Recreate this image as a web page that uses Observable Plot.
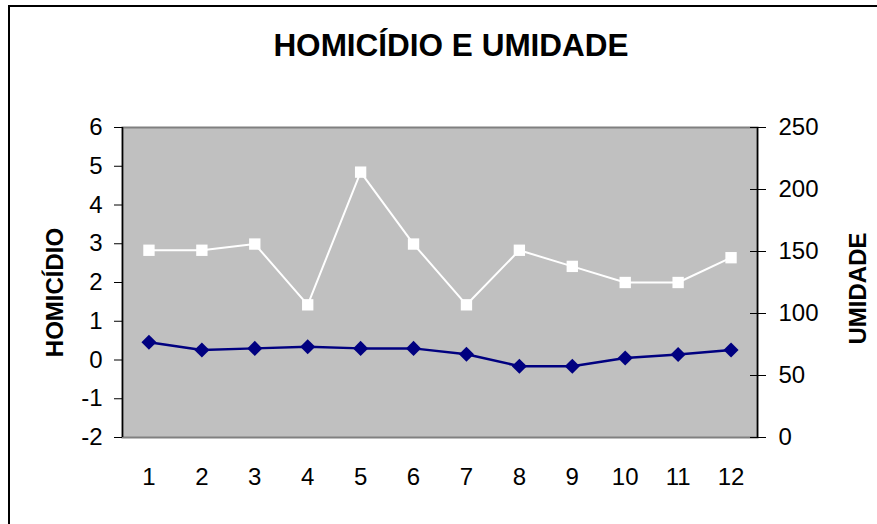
<!DOCTYPE html>
<html>
<head>
<meta charset="utf-8">
<script src="https://cdn.jsdelivr.net/npm/d3@7"></script>
<script src="https://cdn.jsdelivr.net/npm/@observablehq/plot@0.6"></script>
<style>
  html, body { margin: 0; padding: 0; background: #fff; overflow: hidden; }
  #wrap { position: relative; width: 877px; height: 524px; }
  #border { position: absolute; left: 8px; top: 5px; width: 900px; height: 600px; border-left: 2px solid #000; border-top: 2px solid #000; box-sizing: border-box; }
  #chart { position: absolute; left: 0; top: 0; }
</style>
</head>
<body>
<div id="wrap"><div id="border"></div><div id="chart"></div></div>
<script>
const months = [1, 2, 3, 4, 5, 6, 7, 8, 9, 10, 11, 12];
const homicidio = [0.46, 0.26, 0.30, 0.34, 0.30, 0.30, 0.15, -0.16, -0.16, 0.05, 0.14, 0.26];
const umidade = [151, 151, 156, 107, 214, 156, 107, 151, 138, 125, 125, 145];
const leftTicks = [-2, -1, 0, 1, 2, 3, 4, 5, 6];
const rightTicks = [0, 50, 100, 150, 200, 250];
const title = "HOMICÍDIO E UMIDADE";
const leftLabel = "HOMICÍDIO";
const rightLabel = "UMIDADE";

const yMin = -2, yMax = 6, uMax = 250;
const toLeft = u => yMin + u * (yMax - yMin) / uMax;

const homData = months.map((m, i) => ({m, v: homicidio[i]}));
const umiData = months.map((m, i) => ({m, v: toLeft(umidade[i])}));

const font = "Liberation Sans, Arial, sans-serif";

const chart = Plot.plot({
  width: 877,
  height: 524,
  marginLeft: 122,
  marginRight: 120,
  marginTop: 127,
  marginBottom: 87,
  style: {fontFamily: font, background: "transparent", overflow: "visible"},
  x: {domain: [0.5, 12.5]},
  y: {domain: [yMin, yMax]},
  marks: [
    Plot.frame({fill: "#c0c0c0", stroke: "#808080", strokeWidth: 2}),
    Plot.ruleX([0.5], {stroke: "#000", strokeWidth: 1.5}),
    Plot.ruleX([12.5], {stroke: "#000", strokeWidth: 1.5}),
    Plot.axisY(leftTicks, {anchor: "left", tickSize: 8, tickPadding: 12, fontSize: 24, tickFormat: d => d < 0 ? "-" + Math.abs(d) : String(d), label: null, color: "#000"}),
    Plot.axisY(rightTicks.map(toLeft), {anchor: "right", tickSize: 16, dx: -8, tickPadding: 13, fontSize: 24, tickFormat: (d, i) => String(rightTicks[i]), label: null, color: "#000"}),
    Plot.axisX(months, {anchor: "bottom", tickSize: 0, tickPadding: 30, fontSize: 24, label: null, color: "#000"}),
    Plot.line(umiData, {x: "m", y: "v", stroke: "#fff", strokeWidth: 2}),
    Plot.dot(umiData, {x: "m", y: "v", symbol: "square", r: 6.4, fill: "#fff", stroke: "none"}),
    Plot.line(homData, {x: "m", y: "v", stroke: "#000080", strokeWidth: 2.5}),
    Plot.dot(homData, {x: "m", y: "v", symbol: "diamond2", r: 6.8, fill: "#000080", stroke: "none"}),
    Plot.text([title], {frameAnchor: "top", dx: 11, dy: -82, fontSize: 31.5, fontWeight: "bold", fill: "#000", lineAnchor: "middle"}),
    Plot.text([leftLabel], {frameAnchor: "left", textAnchor: "middle", dx: -67, dy: 10, rotate: -90, fontSize: 24, fontWeight: "bold", fill: "#000", lineAnchor: "middle"}),
    Plot.text([rightLabel], {frameAnchor: "right", textAnchor: "middle", dx: 101, dy: 6, rotate: -90, fontSize: 24, fontWeight: "bold", fill: "#000", lineAnchor: "middle"})
  ]
});
document.getElementById("chart").appendChild(chart);
</script>
</body>
</html>
